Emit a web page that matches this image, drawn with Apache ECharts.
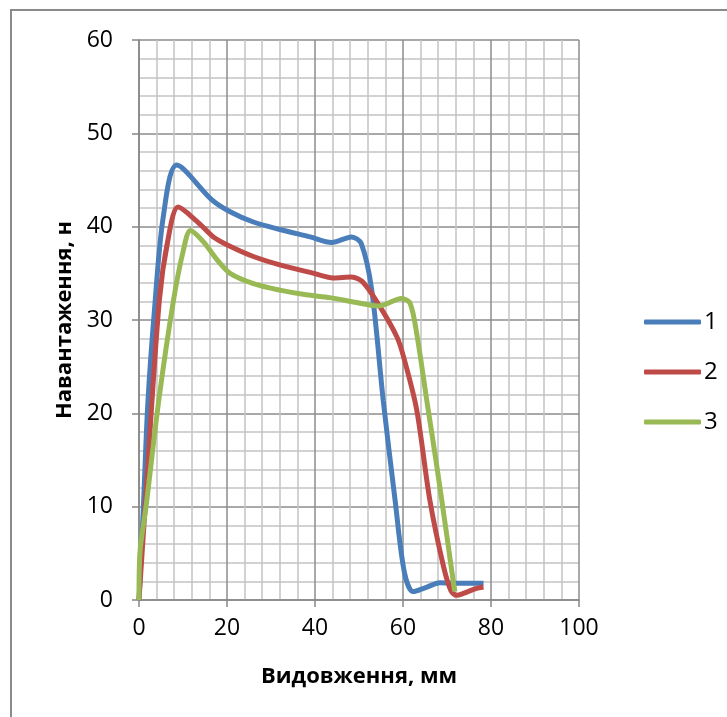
<!DOCTYPE html>
<html><head><meta charset="utf-8">
<script src="https://cdn.jsdelivr.net/npm/echarts@6/dist/echarts.min.js"></script>
<style>html,body{margin:0;padding:0;background:#fff}#c{width:727px;height:717px}</style>
</head><body><div id="c"></div>
<script>
const seriesNames = ['1', '2', '3'];
const s1 = [[0,0],[1,10],[2,21],[3.5,31],[5.5,41],[8.6,46.6],[16.5,42.9],[20.7,41.6],[26,40.5],[32,39.7],[38.9,38.9],[43.8,38.3],[48.3,38.9],[50.5,38.2],[52.9,33.2],[55.5,21.4],[58.2,10.7],[60.3,3],[62.3,0.9],[65,1.3],[68.4,1.85],[73,1.8],[78.3,1.8]];
const s2 = [[0,0],[1.4,10],[4.6,32],[6.7,38.9],[8.9,42.1],[13.1,40.6],[16.9,38.9],[20.7,37.9],[26,36.8],[32,35.9],[38.9,35.1],[44.2,34.5],[48.3,34.6],[51,34],[54.8,31.4],[58.6,28.2],[60.1,26.1],[63.1,20.4],[66.1,10.7],[69.2,3.6],[70.9,1],[72.2,0.5],[73.7,0.7],[76.7,1.25],[78.3,1.4]];
const s3 = [[0,0],[0.2,5],[1.6,10],[4.5,21.4],[7.8,32],[10.1,37.5],[11.7,39.6],[14.6,38.4],[18,36.3],[20.7,35],[26,33.9],[32,33.2],[38,32.7],[43.4,32.4],[49.1,31.9],[54.4,31.5],[59.7,32.3],[61.6,31.8],[63.1,28.6],[65.4,21.4],[67.7,14.3],[69.9,7.1],[71.6,1.4],[71.8,0.9]];
const xTicks = {min:0, max:100, step:20};
const yTicks = {min:0, max:60, step:10};
const colors = ['#4A7EBB', '#BE4B48', '#98B954'];

const font = '"Open Sans", "Noto Sans", sans-serif';
const chart = echarts.init(document.getElementById('c'));
const axisCommon = {
  axisLine: {show: true, lineStyle: {color: '#868686', width: 1.5}},
  axisTick: {show: true, length: 7, lineStyle: {color: '#868686', width: 1.5}},
  splitLine: {show: true, lineStyle: {color: '#8C8C8C', width: 1.5}},
  minorTick: {show: false, splitNumber: 5},
  minorSplitLine: {show: true, lineStyle: {color: '#C4C4C4', width: 1.5}},
  axisLabel: {color: '#000', fontSize: 23, fontFamily: font},
  nameTextStyle: {color: '#000', fontSize: 22, fontWeight: 'bold', fontFamily: font}
};
chart.setOption({
  animation: false,
  color: colors,
  grid: {left: 139, right: 148, top: 40, bottom: 117, containLabel: false},
  graphic: [{type: 'rect', shape: {x: 11, y: 10, width: 900, height: 900}, style: {fill: 'none', stroke: '#8A8A8A', lineWidth: 2}, silent: true, z: -10}],
  legend: {
    orient: 'vertical', left: 639, top: 305,
    itemWidth: 57, itemHeight: 5, itemGap: 26, icon: 'roundRect',
    textStyle: {color: '#000', fontSize: 24, lineHeight: 22, fontFamily: font, padding: [0,0,0,-2]},
    data: seriesNames
  },
  xAxis: Object.assign({}, axisCommon, {
    type: 'value', min: xTicks.min, max: xTicks.max, interval: xTicks.step,
    name: 'Видовження, мм', nameLocation: 'middle', nameGap: 66,
    axisLabel: Object.assign({}, axisCommon.axisLabel, {margin: 17})
  }),
  yAxis: Object.assign({}, axisCommon, {
    type: 'value', min: yTicks.min, max: yTicks.max, interval: yTicks.step,
    name: 'Навантаження, н', nameLocation: 'middle', nameGap: 62,
    axisLabel: Object.assign({}, axisCommon.axisLabel, {margin: 26})
  }),
  series: [s1, s2, s3].map((d, i) => ({
    name: seriesNames[i], type: 'line', data: d, smooth: 0.3, showSymbol: false, symbol: 'none',
    lineStyle: {width: 5, color: colors[i]}, z: 3 + i
  }))
});
</script></body></html>
